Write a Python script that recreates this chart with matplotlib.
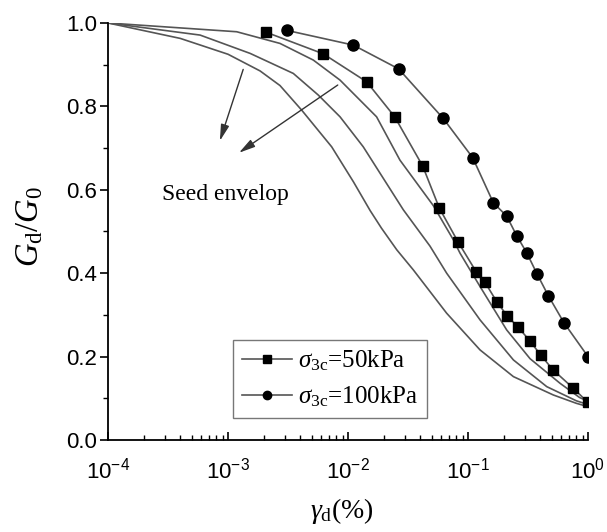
import matplotlib
matplotlib.use("Agg")
import matplotlib.pyplot as plt
from matplotlib.ticker import LogLocator, NullFormatter, MultipleLocator

plt.rcParams['mathtext.fontset'] = 'custom'
plt.rcParams['mathtext.rm'] = 'Liberation Serif'
plt.rcParams['mathtext.it'] = 'Liberation Serif:italic'
plt.rcParams['mathtext.bf'] = 'Liberation Serif:bold'
plt.rcParams['mathtext.sf'] = 'Liberation Sans'

# Seed envelope curves (lower, middle, upper)
lower_x = [1e-4, 0.0004, 0.001, 0.00185, 0.00271, 0.00411, 0.00731, 0.0111, 0.0153, 0.0190,
           0.0255, 0.035, 0.0664, 0.126, 0.239, 0.514, 0.80, 1.0]
lower_y = [1.0, 0.963, 0.925, 0.885, 0.850, 0.791, 0.703, 0.619, 0.550, 0.508,
           0.456, 0.408, 0.304, 0.216, 0.152, 0.108, 0.088, 0.080]
mid_x = [1e-4, 0.000585, 0.00153, 0.0035, 0.00566, 0.00858, 0.0134, 0.0289, 0.0482, 0.0664,
         0.126, 0.239, 0.453, 0.80, 1.0]
mid_y = [1.0, 0.971, 0.927, 0.879, 0.827, 0.775, 0.703, 0.552, 0.465, 0.400,
         0.288, 0.192, 0.128, 0.094, 0.085]
upper_x = [1e-4, 0.00118, 0.00271, 0.00514, 0.00858, 0.0173, 0.0271, 0.0514, 0.0755, 0.0858,
           0.126, 0.21, 0.329, 0.585, 0.85, 1.0]
upper_y = [1.0, 0.979, 0.951, 0.911, 0.863, 0.775, 0.671, 0.562, 0.480, 0.448,
           0.368, 0.264, 0.195, 0.136, 0.102, 0.093]

# Test data
sq_x = [0.00207, 0.00622, 0.0143, 0.0245, 0.0419, 0.0577, 0.083, 0.1167, 0.1386, 0.1734, 0.213,
        0.263, 0.329, 0.403, 0.508, 0.755, 1.0]
sq_y = [0.978, 0.926, 0.859, 0.775, 0.657, 0.556, 0.474, 0.404, 0.378, 0.332, 0.297,
        0.270, 0.237, 0.204, 0.169, 0.124, 0.090]
ci_x = [0.00312, 0.01107, 0.0264, 0.0622, 0.1094, 0.1625, 0.210, 0.2545, 0.3085, 0.378, 0.467,
        0.631, 1.0]
ci_y = [0.982, 0.947, 0.890, 0.771, 0.677, 0.569, 0.537, 0.490, 0.449, 0.397, 0.346,
        0.281, 0.200]

labels = [r'$\sigma_{\rm 3c}$=50kPa', r'$\sigma_{\rm 3c}$=100kPa']
xticks = [1e-4, 1e-3, 1e-2, 1e-1, 1e0]
xticklabels = [r'$\mathsf{10^{-4}}$', r'$\mathsf{10^{-3}}$', r'$\mathsf{10^{-2}}$',
               r'$\mathsf{10^{-1}}$', r'$\mathsf{10^{0}}$']
yticks = [0.0, 0.2, 0.4, 0.6, 0.8, 1.0]

fig = plt.figure(figsize=(6.07, 5.32), dpi=100)
ax = fig.add_axes([0.178, 0.1729, 0.7907, 0.7839])

lc = '#555555'
for xs, ys in [(lower_x, lower_y), (mid_x, mid_y), (upper_x, upper_y)]:
    ax.plot(xs, ys, color=lc, lw=1.2)

l1, = ax.plot(sq_x, sq_y, color=lc, lw=1.2, marker='s', ms=7, mfc='black', mec='black', label=labels[0])
l2, = ax.plot(ci_x, ci_y, color=lc, lw=1.2, marker='o', ms=8, mfc='black', mec='black', label=labels[1])
for ln in (l1, l2):
    ln.set_clip_path(ax.patch)

ax.set_xscale('log')
ax.set_xlim(1e-4, 1.0)
ax.set_ylim(0.0, 1.0)

ax.set_xticks(xticks)
ax.set_xticklabels(xticklabels, fontsize=16)
ax.xaxis.set_minor_locator(LogLocator(base=10, subs=range(2, 10)))
ax.xaxis.set_minor_formatter(NullFormatter())
ax.tick_params(axis='x', which='major', direction='in', length=6, width=1.2, pad=12)
ax.tick_params(axis='x', which='minor', direction='in', length=3.5, width=1.0)

ax.set_yticks(yticks)
ax.set_yticklabels(['%.1f' % v for v in yticks], fontsize=16, family='Liberation Sans')
ax.yaxis.set_minor_locator(MultipleLocator(0.1))
ax.tick_params(axis='y', which='major', direction='out', length=6, width=1.2, pad=2)
ax.tick_params(axis='y', which='minor', direction='out', length=3.5, width=1.0)

for s in ['top', 'right']:
    ax.spines[s].set_visible(False)
for s in ['left', 'bottom']:
    ax.spines[s].set_linewidth(1.3)

ax.set_ylabel(r'$G_{\rm d}/G_0$', fontsize=23.5)
ax.yaxis.set_label_coords(-0.13, 0.513)
ax.set_xlabel(r'$\gamma_{\rm d}$(%)', fontsize=20, family='Liberation Serif')
ax.xaxis.set_label_coords(0.487, -0.135)

# arrows
arrow_style = '-|>,head_length=0.7,head_width=0.18'
ax.annotate('', xy=(0.000841, 0.711), xytext=(0.00136, 0.895),
            arrowprops=dict(arrowstyle=arrow_style, color='#333333', lw=1.0, mutation_scale=14))
ax.annotate('', xy=(0.00118, 0.685), xytext=(0.00858, 0.855),
            arrowprops=dict(arrowstyle=arrow_style, color='#333333', lw=1.0, mutation_scale=14))
ax.text(0.00028, 0.588, 'Seed envelop', fontsize=17, family='Liberation Serif', va='center', ha='left')

leg = ax.legend(loc='lower left', bbox_to_anchor=(0.26, 0.053), fontsize=18, frameon=True,
                fancybox=False, edgecolor='#555555', handlelength=2.0, borderpad=0.35,
                labelspacing=0.45, handletextpad=0.25, borderaxespad=0)
leg.get_frame().set_linewidth(1.0)
for t in leg.get_texts():
    t.set_family('Liberation Serif')
for h in leg.legend_handles:
    h.set_markersize(6)

fig.savefig('out.png', dpi=100)
